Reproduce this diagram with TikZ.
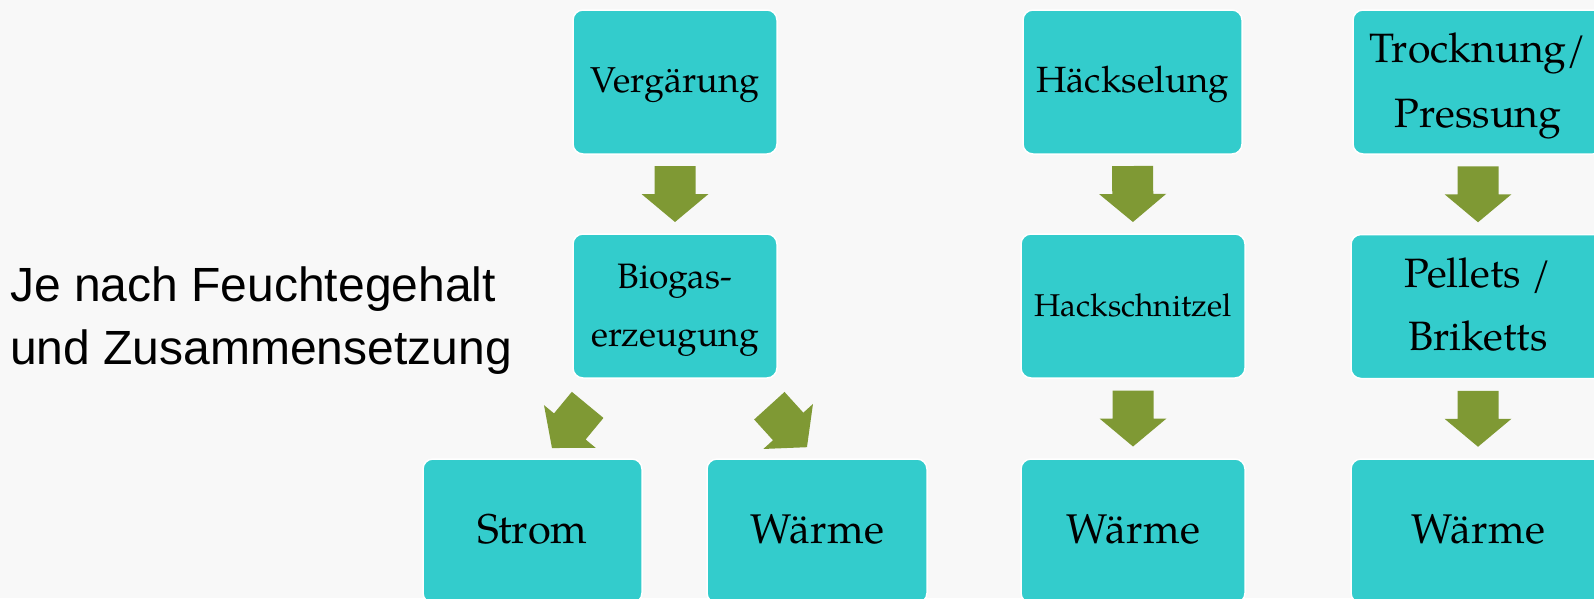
\documentclass[tikz,border=0pt]{standalone}
\usepackage{fontspec}
\setmainfont{TeX Gyre Pagella}
\newfontfamily\arialfont{Liberation Sans}
\usetikzlibrary{calc}
\definecolor{boxteal}{RGB}{51,204,204}
\definecolor{arrowgreen}{RGB}{127,153,52}
\definecolor{bgcol}{RGB}{248,248,248}
\tikzset{
  box/.style={rectangle, rounded corners=10pt, fill=boxteal, draw=white, line width=1.5pt,
    inner sep=0pt, align=center, text=black, minimum height=144pt},
  barrow/.pic={\fill[arrowgreen] (-28,-20.5) -- (0,-20.5) -- (0,-33.5) -- (28,0) -- (0,33.5) -- (0,20.5) -- (-28,20.5) -- cycle;},
  flow/.style={pos=0.5, sloped, allow upside down},
}
\begin{document}
\begin{tikzpicture}[x=1pt,y=-1pt]
\useasboundingbox (0,0) rectangle (1594,598);
\fill[bgcol] (0,0) rectangle (1594,598);
\clip (0,0) rectangle (1594,598);

\node[anchor=west, align=left, inner sep=0pt, font=\arialfont\fontsize{48}{63}\selectfont] (lbl) at (10,321) {Je nach Feuchtegehalt\\und Zusammensetzung};

\node[box, minimum width=204pt, font=\fontsize{36}{51.5}\selectfont] (verg) at (675,82) {\strut Vergärung};
\node[box, minimum width=204pt, font=\fontsize{35.3}{58}\selectfont] (bio) at (675,306) {\strut Biogas-\\\strut erzeugung};
\node[box, minimum width=219pt, font=\fontsize{41.5}{61.5}\selectfont] (strom) at (532.5,531) {\strut Strom};
\node[box, minimum width=220pt, font=\fontsize{41.5}{61.5}\selectfont] (w1) at (817,531) {\strut Wärme};

\node[box, minimum width=219pt, font=\fontsize{36.5}{51.5}\selectfont] (haeck) at (1132.5,82) {\strut Häckselung};
\node[box, minimum width=224pt, font=\fontsize{31.5}{50}\selectfont] (hs) at (1133,306) {\strut Hackschnitzel};
\node[box, minimum width=224pt, font=\fontsize{41.5}{61.5}\selectfont] (w2) at (1133,531) {\strut Wärme};

\node[box, minimum width=250pt, font=\fontsize{41}{65}\selectfont] (trock) at (1478,82) {\strut Trocknung/\\\strut Pressung};
\node[box, minimum width=254pt, font=\fontsize{41}{63}\selectfont] (pell) at (1478,306.5) {\strut Pellets /\\\strut Briketts};
\node[box, minimum width=254pt, font=\fontsize{41.5}{61.5}\selectfont] (w3) at (1478,531) {\strut Wärme};

\path (verg.south) -- (bio.north) pic[flow]{barrow};
\path ($(bio.south west)!0.18!(bio.south east)$) -- ($(strom.north west)!0.55!(strom.north east)$) pic[flow, pos=0.6]{barrow};
\path ($(bio.south west)!0.84!(bio.south east)$) -- (w1.north) pic[flow, pos=0.6]{barrow};
\path (haeck.south) -- (hs.north) pic[flow]{barrow};
\path (hs.south) -- (w2.north) pic[flow]{barrow};
\path (trock.south) -- (pell.north) pic[flow]{barrow};
\path (pell.south) -- (w3.north) pic[flow]{barrow};
\end{tikzpicture}
\end{document}
